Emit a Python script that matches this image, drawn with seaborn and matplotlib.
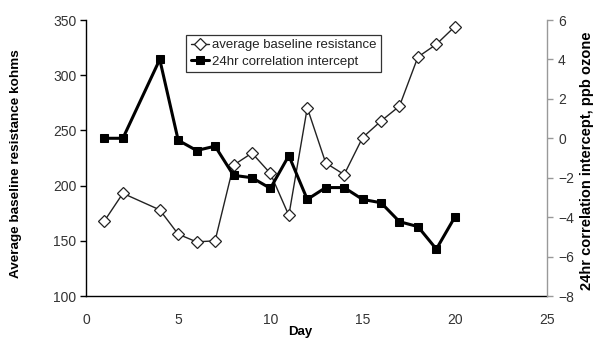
import matplotlib
matplotlib.use("Agg")
import matplotlib.pyplot as plt
import seaborn as sns
import pandas as pd

days = [1, 2, 4, 5, 6, 7, 8, 9, 10, 11, 12, 13, 14, 15, 16, 17, 18, 19, 20]
resistance = [168, 193, 178, 156, 149, 150, 218.5, 229.5, 211, 173, 270.5,
              220.5, 210, 243.5, 258.5, 272, 316.5, 328, 344]
intercept = [0.0, 0.0, 4.0, -0.1, -0.62, -0.4, -1.88, -2.0, -2.54, -0.88, -3.1,
             -2.5, -2.5, -3.1, -3.27, -4.23, -4.48, -5.62, -4.0]

df = pd.DataFrame({"day": days, "resistance": resistance, "intercept": intercept})

sns.set_style("white")
plt.rcParams["font.family"] = ["Liberation Sans", "DejaVu Sans"]

fig = plt.figure(figsize=(5.93, 3.38), dpi=100)
ax = fig.add_axes([86 / 593, 42 / 338, 461 / 593, 276 / 338])
ax2 = ax.twinx()

sns.lineplot(data=df, x="day", y="resistance", ax=ax, color="#222222",
             linewidth=1.0, marker="D", markersize=6, markerfacecolor="white",
             markeredgecolor="#222222", markeredgewidth=0.9,
             label="average baseline resistance", legend=False)
sns.lineplot(data=df, x="day", y="intercept", ax=ax2, color="black",
             linewidth=2.2, marker="s", markersize=5.5, markerfacecolor="black",
             markeredgecolor="black",
             label="24hr correlation intercept", legend=False)

ax.set_xlim(0, 25)
ax.set_ylim(100, 350)
ax2.set_ylim(-8, 6)
ax.set_xticks([0, 5, 10, 15, 20, 25])
ax.set_yticks([100, 150, 200, 250, 300, 350])
ax2.set_yticks([-8, -6, -4, -2, 0, 2, 4, 6])

for a in (ax, ax2):
    a.spines["top"].set_visible(False)
    a.patch.set_visible(False)
ax.spines["right"].set_visible(False)
ax2.spines["left"].set_visible(False)
ax2.spines["bottom"].set_visible(False)
ax.spines["left"].set_color("black")
ax.spines["bottom"].set_color("black")
ax.spines["left"].set_linewidth(1.0)
ax.spines["bottom"].set_linewidth(1.0)
ax2.spines["right"].set_color("#999999")
ax2.spines["right"].set_linewidth(1.0)

tick_color = "#333333"
ax.tick_params(axis="both", direction="out", length=4, width=1, color="black",
               labelsize=10, labelcolor=tick_color, pad=3)
ax.tick_params(axis="x", pad=8)
ax2.tick_params(axis="y", direction="out", length=4, width=1, color="#999999",
                labelsize=10, labelcolor=tick_color, pad=4)

ax.set_xlabel("Day", fontsize=9.5, fontweight="bold", color="black")
ax.xaxis.set_label_coords(0.465, -0.108)
ax.set_ylabel("Average baseline resistance kohms", fontsize=9.7,
              fontweight="bold", color="black")
ax.yaxis.set_label_coords(-0.138, 0.478)
ax2.set_ylabel("24hr correlation intercept, ppb ozone", fontsize=10.5,
               fontweight="bold", color="black", rotation=90)
ax2.yaxis.set_label_coords(1.072, 0.49)

h1, l1 = ax.get_legend_handles_labels()
h2, l2 = ax2.get_legend_handles_labels()
leg = ax2.legend(h1 + h2, l1 + l2, loc="upper left",
                 bbox_to_anchor=(0.217, 0.947), fontsize=9.5, frameon=True,
                 fancybox=False, edgecolor="black", handlelength=1.4,
                 handletextpad=0.2, borderpad=0.35, labelspacing=0.3,
                 borderaxespad=0)
leg.get_frame().set_linewidth(0.9)
for t in leg.get_texts():
    t.set_color("#222222")

fig.savefig("out.png", dpi=100)
